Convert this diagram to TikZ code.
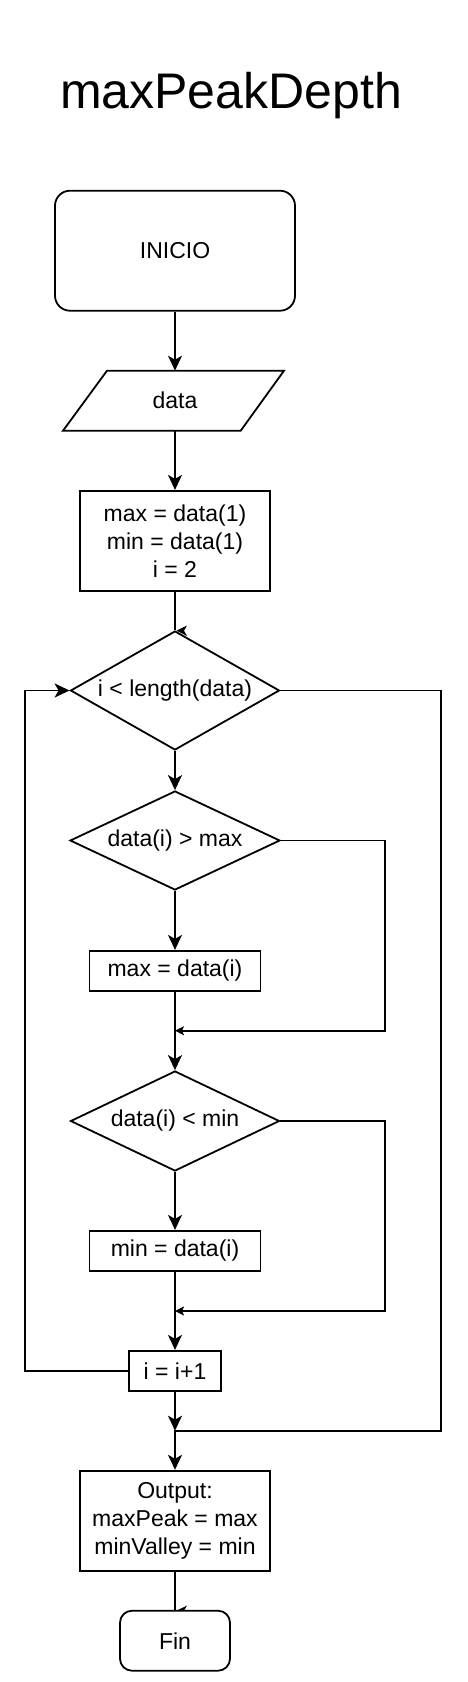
\documentclass[tikz,border=0pt]{standalone}
\usepackage{fontspec}
\setmainfont{Liberation Sans}
\usetikzlibrary{shapes.geometric,arrows.meta,backgrounds}
\begin{document}
\begin{tikzpicture}[x=1pt,y=-1pt,
  base/.style={draw, line width=1.8pt, inner sep=0pt, fill=white,
    font=\fontsize{23}{28}\selectfont, align=center},
  procbox/.style 2 args={base, rectangle, minimum width=#1, minimum height=#2},
  termbox/.style n args={3}{base, rectangle, rounded corners=#3, minimum width=#1, minimum height=#2},
  decision/.style 2 args={base, diamond, minimum width=#1, minimum height=#2},
  arr/.style={line width=1.8pt, -{Stealth[length=15pt,width=14pt,inset=4pt]}},
  mergearr/.style={line width=1.8pt, -{Stealth[length=9pt,width=9pt,inset=2pt]}},
  plain/.style={line width=1.8pt},
  tickmark/.style={fill=black}
]
\useasboundingbox (0,0) rectangle (468,1682);

\node[font=\fontsize{50}{60}\selectfont, inner sep=0pt, anchor=base] (title) at (231,108) {maxPeakDepth};

\node[termbox={240}{120}{15}] (inicio) at (175,250.7) {INICIO};
\node[inner sep=0pt, minimum width=177, minimum height=60, font=\fontsize{23}{28}\selectfont] (data) at (175,400.7) {data};
\draw[line width=1.8pt, line join=miter] (107,370.7) -- (284,370.7) -- (240.7,430.7) -- (63,430.7) -- cycle;
\node[procbox={190}{100}] (init) at (175,540.8) {max = data(1)\\min = data(1)\\i = 2};
\node[decision={209}{119}] (d1) at (175,690.5) {\makebox[0pt]{i < length(data)}};
\node[decision={210}{99}] (d2) at (175,840.5) {\makebox[0pt]{data(i) > max}};
\node[procbox={171}{40}] (maxb) at (175,970.8) {max = data(i)};
\node[decision={209}{100}] (d3) at (175,1121) {\makebox[0pt]{data(i) < min}};
\node[procbox={171}{40}] (minb) at (175,1250.8) {min = data(i)};
\node[procbox={92}{40}] (inc) at (175,1370.8) {i = i+1};
\node[procbox={190}{100}] (out) at (175,1520.7) {Output:\\maxPeak = max\\minValley = min};
\node[termbox={110}{60}{12}] (fin) at (175,1640.7) {Fin};

\coordinate (m1) at (175,1030.7);
\coordinate (m2) at (175,1311);
\coordinate (m3) at (175,1430.7);
\coordinate (r1) at (385,840.5);
\coordinate (r2) at (385,1121);
\coordinate (r3) at (441,690.5);
\coordinate (l1) at (25,1370.8);

\begin{pgfonlayer}{background}
\fill[tickmark] (176.5,630.7) -- (187,625.5) -- (184,630.7) -- (187,636) -- cycle;
\fill[tickmark] (176.5,1610.7) -- (187,1605.5) -- (184,1610.7) -- (187,1616) -- cycle;
\end{pgfonlayer}

\draw[arr] (inicio) -- (data.north |- 0,370.7);
\draw[arr] (data.north |- 0,430.7) -- (init);
\draw[plain] (init) -- (d1);
\draw[arr] (d1) -- (d2);
\draw[arr] (d2) -- (maxb);
\draw[arr] (maxb) -- (d3);
\draw[mergearr] (d2.east) -- (r1) |- (m1);
\draw[arr] (d3) -- (minb);
\draw[arr] (minb) -- (inc);
\draw[mergearr] (d3.east) -- (r2) |- (m2);
\draw[arr] (inc.west) -- (l1) |- (d1.west);
\draw[arr] (inc) -- (m3);
\draw[arr] (d1.east) -- (r3) |- (m3) -- (out);
\draw[plain] (out) -- (fin);
\end{tikzpicture}
\end{document}
